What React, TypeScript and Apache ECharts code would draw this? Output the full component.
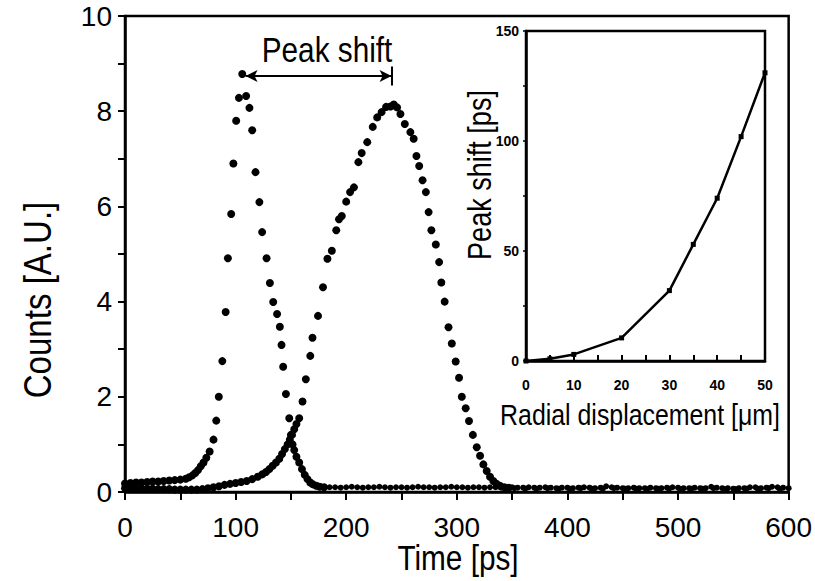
import React, { useEffect, useRef } from "react";
import * as echarts from "echarts";

// Main plot: time (ps) vs counts (A.U.)
const narrowPulse: [number, number][] = [
  [0, 0.18], [5, 0.19], [10, 0.2], [15, 0.2], [20, 0.21], [25, 0.22], [30, 0.22], [35, 0.23], [40, 0.24],
  [45, 0.25], [50, 0.26], [55, 0.28], [58, 0.31], [61, 0.35], [63.5, 0.4], [66, 0.46], [68.5, 0.54],
  [71, 0.62], [73.5, 0.72], [76.5, 0.85], [80, 1.1], [82.5, 1.5], [84.8, 2.0], [88, 2.75], [91, 3.78],
  [93, 4.91], [96, 5.84], [98, 6.9], [100.5, 7.8], [103, 8.28], [106, 8.78], [109.5, 8.32], [112.5, 8.07],
  [115, 7.6], [118, 6.72], [121.5, 6.09], [124, 5.46], [128, 4.91], [131, 4.39], [134, 3.99], [137.5, 3.74],
  [140, 3.47], [141.5, 3.09], [143, 2.63], [145.5, 2.06], [148.5, 1.55], [150, 1.2], [151.5, 1.0],
  [153, 0.88], [155, 0.74], [157.5, 0.62], [160, 0.48], [162.5, 0.36], [165, 0.27], [167.5, 0.2],
  [170, 0.16], [173, 0.13], [176, 0.11], [180, 0.1],
];
const narrowTail: [number, number][] = [
  [185, 0.1], [190, 0.1], [195, 0.09], [200, 0.1], [205, 0.11], [210, 0.1], [215, 0.09], [220, 0.1],
  [225, 0.1], [230, 0.11], [235, 0.1], [240, 0.09], [245, 0.1], [250, 0.1], [255, 0.09], [260, 0.1],
  [265, 0.11], [270, 0.1], [275, 0.1], [280, 0.09], [285, 0.1], [290, 0.1], [295, 0.11], [300, 0.1],
  [305, 0.1], [310, 0.09], [315, 0.1], [320, 0.1], [325, 0.09], [330, 0.1], [335, 0.1], [340, 0.09],
  [345, 0.1], [350, 0.1], [355, 0.09], [360, 0.09], [365, 0.1], [370, 0.09], [375, 0.09], [380, 0.1],
  [385, 0.09], [390, 0.08], [395, 0.09], [400, 0.09], [405, 0.08], [410, 0.09], [415, 0.1], [420, 0.09],
  [425, 0.08], [430, 0.09], [435, 0.12], [440, 0.1], [445, 0.09], [450, 0.08], [455, 0.08], [460, 0.09],
  [465, 0.08], [470, 0.08], [475, 0.09], [480, 0.08], [485, 0.08], [490, 0.09], [495, 0.1], [500, 0.09],
  [505, 0.08], [510, 0.08], [515, 0.09], [520, 0.08], [525, 0.08], [530, 0.11], [535, 0.09], [540, 0.08],
  [545, 0.08], [550, 0.07], [555, 0.08], [560, 0.08], [565, 0.1], [570, 0.1], [575, 0.08], [580, 0.09],
  [585, 0.11], [590, 0.1], [595, 0.09], [600, 0.08],
];
const widePulse: [number, number][] = [
  [0, 0.08], [5, 0.08], [10, 0.08], [15, 0.07], [20, 0.07], [25, 0.07], [30, 0.06], [35, 0.06], [40, 0.06],
  [45, 0.05], [50, 0.05], [55, 0.05], [60, 0.05], [65, 0.05], [70, 0.06], [75, 0.08], [80, 0.1], [85, 0.12],
  [90, 0.15], [95, 0.17], [100, 0.19], [105, 0.21], [110, 0.23], [115, 0.27], [120, 0.32], [124, 0.37],
  [127.5, 0.42], [130.5, 0.48], [133.5, 0.55], [136.5, 0.62], [139.5, 0.7], [142, 0.8], [144.5, 0.9],
  [147, 1.0], [149, 1.1], [151, 1.2], [153, 1.32], [155, 1.43], [157.5, 1.55], [160.5, 1.9], [163.5, 2.37],
  [167.5, 2.86], [169.5, 3.24], [174.5, 3.7], [179, 4.3], [183, 4.9], [187, 5.07], [191, 5.5],
  [193.5, 5.73], [196, 5.8], [200, 6.1], [203.5, 6.3], [207, 6.4], [211, 6.93], [214, 7.12], [219, 7.35],
  [224, 7.67], [228, 7.87], [232, 7.98], [236, 8.09], [240, 8.1], [243, 8.14], [246, 8.08], [249, 7.94],
  [253, 7.73], [258, 7.56], [261, 7.42], [263.5, 7.06], [266, 6.85], [269, 6.55], [272, 6.3], [274.5, 5.88],
  [277, 5.5], [281, 5.2], [284, 4.83], [286, 4.4], [289, 4.0], [292.5, 3.46], [295.5, 3.12], [299, 2.74],
  [302, 2.4], [304.5, 2.0], [308, 1.76], [311, 1.49], [314.5, 1.2], [318, 0.94], [321, 0.76], [324, 0.58],
  [327, 0.44], [330, 0.32], [333, 0.23], [336, 0.17], [339, 0.13], [343, 0.1], [347, 0.09],
];
const wideTail: [number, number][] = [
  [352, 0.08], [362, 0.07], [372, 0.07], [382, 0.08], [392, 0.07], [402, 0.07], [412, 0.08], [422, 0.07],
  [432, 0.07], [442, 0.08], [452, 0.07], [462, 0.07], [472, 0.06], [482, 0.07], [492, 0.07], [502, 0.06],
  [512, 0.07], [522, 0.07], [532, 0.08], [542, 0.06], [552, 0.06], [562, 0.07], [572, 0.07], [582, 0.08],
  [592, 0.06],
];

// Peak-shift annotation (time range between the two peaks, at counts level)
const shiftStart = 109;
const shiftEnd = 241;
const shiftLevel = 8.74;

// Inset: radial displacement (µm) vs peak shift (ps)
const insetDisplacement = [0, 5, 10, 20, 30, 35, 40, 45, 50];
const insetShift = [0, 1, 3, 10.5, 32, 53, 74, 102, 131];

const FONT = "'Liberation Sans', Arial, sans-serif";

function label(text: string, x: number, y: number, size: number, sx: number, rot = 0) {
  return {
    type: "text", x, y, rotation: rot, scaleX: sx, silent: true,
    style: { text, fontFamily: FONT, fontSize: size, fill: "#000", align: "center", verticalAlign: "middle" },
  };
}

export default function App() {
  const ref = useRef<HTMLDivElement>(null);
  useEffect(() => {
    if (!ref.current) return;
    const chart = echarts.init(ref.current, undefined, { renderer: "svg" });
    const dot = { color: "#000", opacity: 1 };
    chart.setOption({
      animation: false,
      backgroundColor: "#fff",
      grid: [
        { left: 125, right: 25, top: 16, bottom: 89, show: true, borderColor: "#000", borderWidth: 2.5, backgroundColor: "transparent" },
        { left: 526, right: 50, top: 31, bottom: 220, show: true, borderColor: "#000", borderWidth: 2.5, backgroundColor: "#fff" },
      ],
      xAxis: [
        {
          type: "value", gridIndex: 0, min: 0, max: 600, interval: 50,
          axisLine: { lineStyle: { color: "#000", width: 2.5 } },
          axisTick: { show: true, inside: false, length: 8, lineStyle: { color: "#000", width: 2 } },
          axisLabel: { margin: 21, fontFamily: FONT, fontSize: 28, color: "#000", formatter: (v: number) => (v % 100 === 0 ? String(v) : "") },
          splitLine: { show: false },
        },
        {
          type: "value", gridIndex: 1, min: 0, max: 50, interval: 5,
          axisLine: { lineStyle: { color: "#000", width: 2.5 } },
          axisTick: { show: true, inside: true, length: 6, lineStyle: { color: "#000", width: 2 } },
          axisLabel: { margin: 17, fontFamily: FONT, fontSize: 14, fontWeight: "bold", color: "#000", formatter: (v: number) => (v % 10 === 0 ? String(v) : "") },
          splitLine: { show: false },
        },
      ],
      yAxis: [
        {
          type: "value", gridIndex: 0, min: 0, max: 10, interval: 1,
          axisLine: { lineStyle: { color: "#000", width: 2.5 } },
          axisTick: { show: true, inside: false, length: 7, lineStyle: { color: "#000", width: 2 } },
          axisLabel: { margin: 13, fontFamily: FONT, fontSize: 28, color: "#000", formatter: (v: number) => (v % 2 === 0 ? String(v) : "") },
          splitLine: { show: false },
        },
        {
          type: "value", gridIndex: 1, min: 0, max: 150, interval: 25,
          axisLine: { lineStyle: { color: "#000", width: 2.5 } },
          axisTick: { show: true, inside: false, length: 3, lineStyle: { color: "#000", width: 1.5 } },
          axisLabel: { margin: 7, fontFamily: FONT, fontSize: 14, fontWeight: "bold", color: "#000", formatter: (v: number) => (v % 50 === 0 ? String(v) : "") },
          splitLine: { show: false },
        },
      ],
      series: [
        { type: "scatter", xAxisIndex: 0, yAxisIndex: 0, data: narrowPulse, symbol: "circle", symbolSize: 8, itemStyle: dot, silent: true },
        { type: "scatter", xAxisIndex: 0, yAxisIndex: 0, data: narrowTail, symbol: "circle", symbolSize: 6, itemStyle: dot, silent: true },
        { type: "scatter", xAxisIndex: 0, yAxisIndex: 0, data: widePulse, symbol: "circle", symbolSize: 8, itemStyle: dot, silent: true },
        { type: "scatter", xAxisIndex: 0, yAxisIndex: 0, data: wideTail, symbol: "circle", symbolSize: 6, itemStyle: dot, silent: true },
        {
          type: "scatter", xAxisIndex: 0, yAxisIndex: 0, data: [], silent: true,
          markLine: {
            silent: true, animation: false,
            lineStyle: { color: "#000", width: 2, type: "solid" },
            label: { show: false },
            data: [
              [
                { coord: [shiftStart, shiftLevel], symbol: "arrow", symbolSize: [9, 12] },
                { coord: [shiftEnd, shiftLevel], symbol: "arrow", symbolSize: [9, 12] },
              ],
              [
                { coord: [shiftEnd, shiftLevel - 0.2], symbol: "none" },
                { coord: [shiftEnd, shiftLevel + 0.2], symbol: "none" },
              ],
            ],
          },
        },
        {
          type: "line", xAxisIndex: 1, yAxisIndex: 1,
          data: insetDisplacement.map((d, i) => [d, insetShift[i]]),
          symbol: "rect", symbolSize: 5, showSymbol: true,
          lineStyle: { color: "#000", width: 2.5 }, itemStyle: { color: "#000" }, silent: true,
        },
      ],
      graphic: [
        label("Peak shift", 327, 50, 35, 0.85),
        label("Time [ps]", 458, 558, 35, 0.85),
        label("Counts [A.U.]", 38, 300, 38, 0.87, Math.PI / 2),
        label("Peak shift [ps]", 480, 175, 33, 0.82, Math.PI / 2),
        label("Radial displacement [μm]", 640, 415, 30, 0.83),
      ],
    });
    return () => chart.dispose();
  }, []);
  return <div ref={ref} style={{ position: "fixed", left: 0, top: 0, width: 815, height: 581, background: "#fff" }} />;
}
